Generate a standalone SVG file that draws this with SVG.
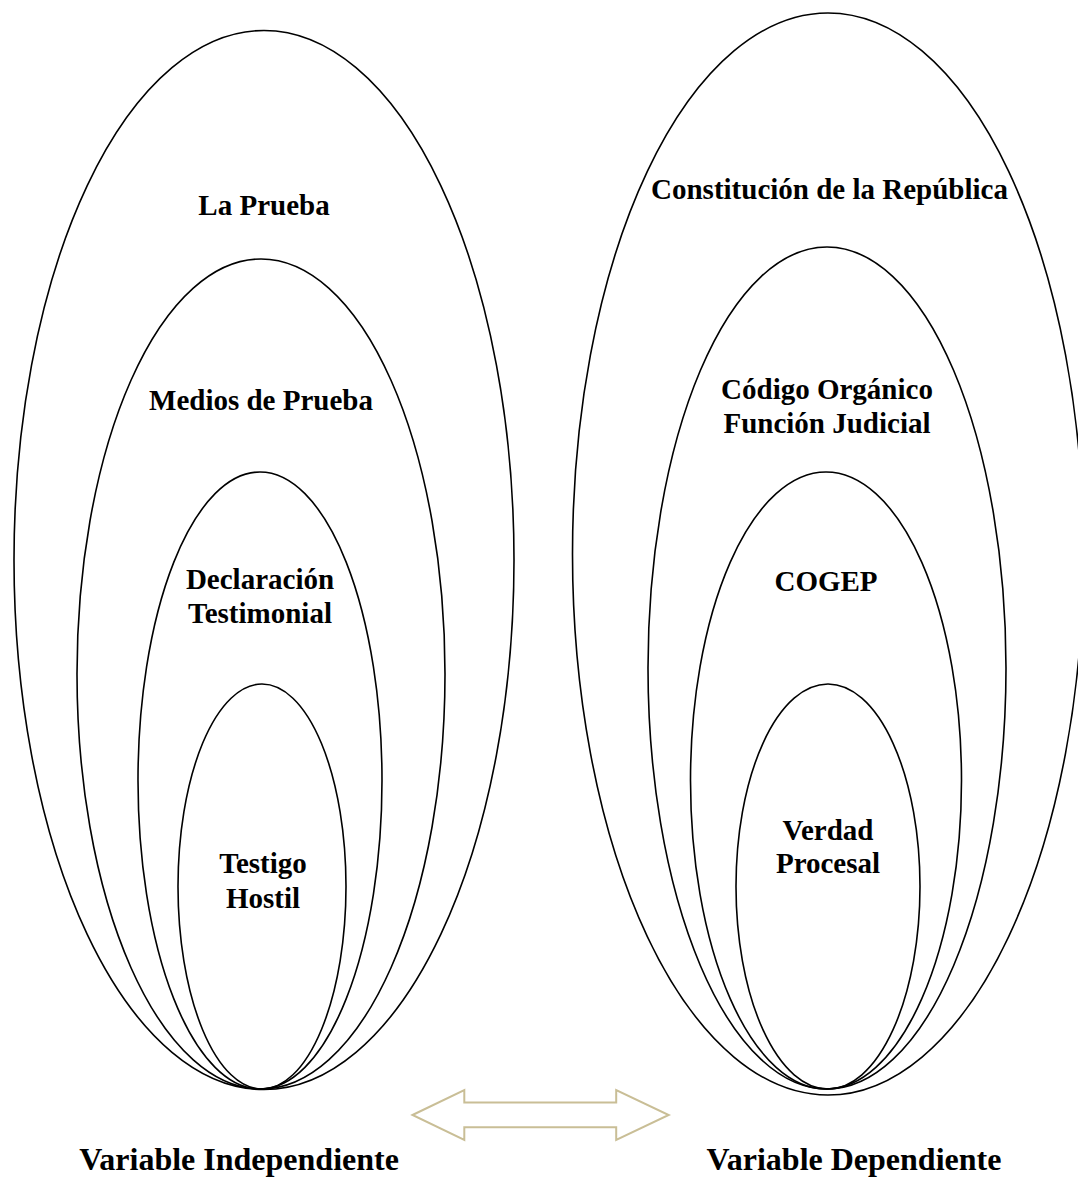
<svg xmlns="http://www.w3.org/2000/svg" width="1078" height="1179" viewBox="0 0 1078 1179">
<style>
.e{fill:none;stroke:#000;stroke-width:1.6}
.t{font-family:"Liberation Serif","Times New Roman",serif;font-weight:bold;font-size:29px;text-anchor:middle;fill:#000}
.b{font-family:"Liberation Serif","Times New Roman",serif;font-weight:bold;font-size:32px;text-anchor:middle;fill:#000}
.a{fill:#fff;stroke:#C9BE96;stroke-width:2;stroke-linejoin:miter}
</style>
<rect width="1078" height="1179" fill="#fff"/>
<g id="left">
<g id="la-prueba"><ellipse class="e" cx="264" cy="560" rx="250" ry="529.5"/><text class="t" x="264" y="215">La Prueba</text></g>
<g id="medios-de-prueba"><ellipse class="e" cx="261" cy="674" rx="184" ry="415"/><text class="t" x="261" y="410">Medios de Prueba</text></g>
<g id="declaracion-testimonial"><ellipse class="e" cx="260" cy="780.5" rx="122" ry="308.5"/><text class="t" x="260" y="589">Declaración</text><text class="t" x="260" y="623">Testimonial</text></g>
<g id="testigo-hostil"><ellipse class="e" cx="262" cy="886.5" rx="84" ry="202.5"/><text class="t" x="263" y="873">Testigo</text><text class="t" x="263" y="908">Hostil</text></g>
</g>
<g id="right">
<g id="constitucion"><ellipse class="e" cx="828" cy="554" rx="255.5" ry="541"/><text class="t" x="829.5" y="199">Constitución de la República</text></g>
<g id="codigo-organico"><ellipse class="e" cx="827" cy="668" rx="179" ry="421"/><text class="t" x="827" y="399">Código Orgánico</text><text class="t" x="827" y="433">Función Judicial</text></g>
<g id="cogep"><ellipse class="e" cx="826" cy="780.5" rx="135.5" ry="308.5"/><text class="t" x="826" y="591">COGEP</text></g>
<g id="verdad-procesal"><ellipse class="e" cx="828" cy="886.5" rx="92" ry="202.5"/><text class="t" x="828" y="840">Verdad</text><text class="t" x="828" y="873">Procesal</text></g>
</g>
<g id="connectors">
<path class="a" d="M412.5,1115 L464.3,1090 L464.3,1102.5 L616.2,1102.5 L616.2,1090 L668.7,1115 L616.2,1140 L616.2,1127.3 L464.3,1127.3 L464.3,1140 Z"/>
</g>
<g id="labels">
<text class="b" x="239" y="1170">Variable Independiente</text>
<text class="b" x="854" y="1170">Variable Dependiente</text>
</g>
</svg>
